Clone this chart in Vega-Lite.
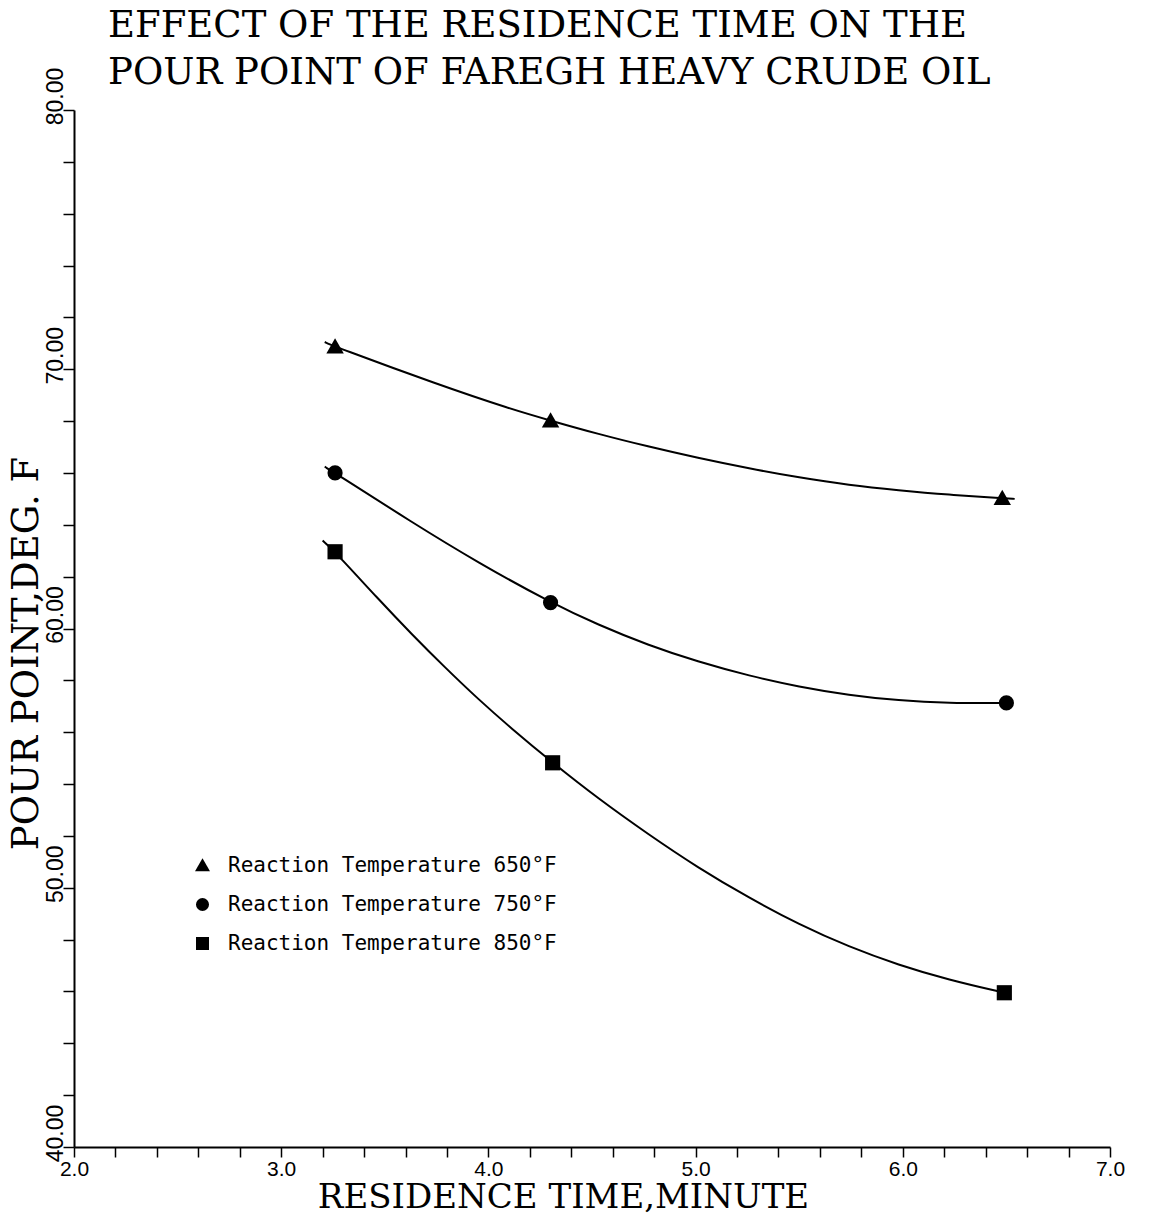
{
  "$schema": "https://vega.github.io/schema/vega-lite/v6.json",
  "width": 1036,
  "height": 1037,
  "autosize": {"type": "none"},
  "padding": {"left": 74, "top": 110, "right": 49, "bottom": 68},
  "background": "white",
  "title": {
    "text": ["EFFECT OF THE RESIDENCE TIME ON THE", "POUR POINT OF FAREGH HEAVY CRUDE OIL"],
    "anchor": "start",
    "frame": "group",
    "font": "DejaVu Serif",
    "fontSize": 37,
    "fontWeight": "normal",
    "color": "black",
    "lineHeight": 47,
    "dx": 34,
    "dy": 25,
    "offset": 0
  },
  "datasets": {
    "points": [
      {"series": "Reaction Temperature 650°F", "time": 3.26, "pour": 70.87},
      {"series": "Reaction Temperature 650°F", "time": 4.30, "pour": 68.02},
      {"series": "Reaction Temperature 650°F", "time": 6.48, "pour": 65.03},
      {"series": "Reaction Temperature 750°F", "time": 3.26, "pour": 66.0},
      {"series": "Reaction Temperature 750°F", "time": 4.30, "pour": 61.0},
      {"series": "Reaction Temperature 750°F", "time": 6.50, "pour": 57.13},
      {"series": "Reaction Temperature 850°F", "time": 3.26, "pour": 62.96},
      {"series": "Reaction Temperature 850°F", "time": 4.31, "pour": 54.82},
      {"series": "Reaction Temperature 850°F", "time": 6.49, "pour": 45.95}
    ],
    "curves": [
      {"series": "Reaction Temperature 650°F", "time": 3.21, "pour": 71.05},
      {"series": "Reaction Temperature 650°F", "time": 3.26, "pour": 70.87},
      {"series": "Reaction Temperature 650°F", "time": 3.76, "pour": 69.40},
      {"series": "Reaction Temperature 650°F", "time": 4.11, "pour": 68.46},
      {"series": "Reaction Temperature 650°F", "time": 4.30, "pour": 68.02},
      {"series": "Reaction Temperature 650°F", "time": 4.53, "pour": 67.50},
      {"series": "Reaction Temperature 650°F", "time": 4.77, "pour": 67.02},
      {"series": "Reaction Temperature 650°F", "time": 5.01, "pour": 66.58},
      {"series": "Reaction Temperature 650°F", "time": 5.26, "pour": 66.17},
      {"series": "Reaction Temperature 650°F", "time": 5.50, "pour": 65.82},
      {"series": "Reaction Temperature 650°F", "time": 5.74, "pour": 65.53},
      {"series": "Reaction Temperature 650°F", "time": 5.98, "pour": 65.33},
      {"series": "Reaction Temperature 650°F", "time": 6.22, "pour": 65.16},
      {"series": "Reaction Temperature 650°F", "time": 6.48, "pour": 65.03},
      {"series": "Reaction Temperature 650°F", "time": 6.54, "pour": 65.00},
      {"series": "Reaction Temperature 750°F", "time": 3.21, "pour": 66.24},
      {"series": "Reaction Temperature 750°F", "time": 3.26, "pour": 66.0},
      {"series": "Reaction Temperature 750°F", "time": 3.63, "pour": 64.10},
      {"series": "Reaction Temperature 750°F", "time": 3.95, "pour": 62.54},
      {"series": "Reaction Temperature 750°F", "time": 4.30, "pour": 61.0},
      {"series": "Reaction Temperature 750°F", "time": 4.53, "pour": 60.14},
      {"series": "Reaction Temperature 750°F", "time": 4.77, "pour": 59.36},
      {"series": "Reaction Temperature 750°F", "time": 5.01, "pour": 58.72},
      {"series": "Reaction Temperature 750°F", "time": 5.26, "pour": 58.17},
      {"series": "Reaction Temperature 750°F", "time": 5.50, "pour": 57.75},
      {"series": "Reaction Temperature 750°F", "time": 5.74, "pour": 57.43},
      {"series": "Reaction Temperature 750°F", "time": 5.98, "pour": 57.22},
      {"series": "Reaction Temperature 750°F", "time": 6.22, "pour": 57.12},
      {"series": "Reaction Temperature 750°F", "time": 6.50, "pour": 57.13},
      {"series": "Reaction Temperature 850°F", "time": 3.20, "pour": 63.39},
      {"series": "Reaction Temperature 850°F", "time": 3.26, "pour": 62.96},
      {"series": "Reaction Temperature 850°F", "time": 3.47, "pour": 61.12},
      {"series": "Reaction Temperature 850°F", "time": 3.63, "pour": 59.78},
      {"series": "Reaction Temperature 850°F", "time": 3.79, "pour": 58.50},
      {"series": "Reaction Temperature 850°F", "time": 3.95, "pour": 57.28},
      {"series": "Reaction Temperature 850°F", "time": 4.11, "pour": 56.15},
      {"series": "Reaction Temperature 850°F", "time": 4.31, "pour": 54.82},
      {"series": "Reaction Temperature 850°F", "time": 4.53, "pour": 53.44},
      {"series": "Reaction Temperature 850°F", "time": 4.77, "pour": 52.07},
      {"series": "Reaction Temperature 850°F", "time": 5.01, "pour": 50.78},
      {"series": "Reaction Temperature 850°F", "time": 5.26, "pour": 49.60},
      {"series": "Reaction Temperature 850°F", "time": 5.50, "pour": 48.58},
      {"series": "Reaction Temperature 850°F", "time": 5.74, "pour": 47.72},
      {"series": "Reaction Temperature 850°F", "time": 5.98, "pour": 47.02},
      {"series": "Reaction Temperature 850°F", "time": 6.22, "pour": 46.45},
      {"series": "Reaction Temperature 850°F", "time": 6.49, "pour": 45.95}
    ]
  },
  "encoding": {
    "x": {
      "field": "time",
      "type": "quantitative",
      "scale": {"domain": [2, 7], "nice": false, "zero": false},
      "axis": {
        "values": [2, 2.2, 2.4, 2.6, 2.8, 3, 3.2, 3.4, 3.6, 3.8, 4, 4.2, 4.4, 4.6, 4.8, 5, 5.2, 5.4, 5.6, 5.8, 6, 6.2, 6.4, 6.6, 6.8, 7],
        "labelExpr": "abs(datum.value - round(datum.value)) < 0.01 ? format(datum.value, '.1f') : ''",
        "labelAngle": 0,
        "labelAlign": "center",
        "labelBaseline": "top",
        "labelPadding": 1,
        "labelFont": "Liberation Sans",
        "labelFontSize": 21,
        "labelColor": "black",
        "labelOverlap": false,
        "labelFlush": false,
        "tickSize": 10,
        "tickColor": "black",
        "tickWidth": 1.5,
        "domainColor": "black",
        "domainWidth": 2,
        "grid": false,
        "title": "RESIDENCE TIME,MINUTE",
        "titleFont": "DejaVu Serif",
        "titleFontSize": 34,
        "titleFontWeight": "normal",
        "titleColor": "black",
        "titleAngle": 0,
        "titleAlign": "center",
        "titleBaseline": "alphabetic",
        "titleX": 489,
        "titleY": 60
      }
    },
    "y": {
      "field": "pour",
      "type": "quantitative",
      "scale": {"domain": [40, 80], "nice": false, "zero": false},
      "axis": {
        "values": [40, 42, 44, 46, 48, 50, 52, 54, 56, 58, 60, 62, 64, 66, 68, 70, 72, 74, 76, 78, 80],
        "labelExpr": "datum.value % 10 === 0 ? format(datum.value, '.2f') : ''",
        "labelAngle": 270,
        "labelAlign": "center",
        "labelBaseline": "alphabetic",
        "labelOffset": -14,
        "labelPadding": 1,
        "labelFont": "Liberation Sans",
        "labelFontSize": 23,
        "labelColor": "black",
        "labelOverlap": false,
        "labelFlush": false,
        "tickSize": 11,
        "tickColor": "black",
        "tickWidth": 1.5,
        "domainColor": "black",
        "domainWidth": 2,
        "grid": false,
        "title": "POUR POINT,DEG. F",
        "titleFont": "DejaVu Serif",
        "titleFontSize": 37,
        "titleFontWeight": "normal",
        "titleColor": "black",
        "titleAngle": 270,
        "titleAlign": "center",
        "titleBaseline": "alphabetic",
        "titleX": -37,
        "titleY": 543
      }
    }
  },
  "layer": [
    {
      "data": {"name": "curves"},
      "mark": {"type": "line", "interpolate": "basis", "color": "black", "strokeWidth": 2},
      "encoding": {"detail": {"field": "series", "type": "nominal"}}
    },
    {
      "data": {"name": "points"},
      "mark": {"type": "point", "filled": true, "color": "black", "size": 230, "opacity": 1},
      "encoding": {
        "shape": {
          "field": "series",
          "type": "nominal",
          "scale": {
            "domain": ["Reaction Temperature 650°F", "Reaction Temperature 750°F", "Reaction Temperature 850°F"],
            "range": ["M0,-1.1L1.15,0.9L-1.15,0.9Z", "circle", "square"]
          },
          "legend": {
            "title": null,
            "orient": "none",
            "legendX": 118,
            "legendY": 745,
            "padding": 0,
            "labelFont": "DejaVu Sans Mono",
            "labelFontSize": 21,
            "labelColor": "black",
            "labelOffset": 15,
            "labelLimit": 0,
            "symbolSize": 170,
            "symbolFillColor": "black",
            "symbolStrokeColor": "black",
            "symbolOpacity": 1,
            "rowPadding": 17
          }
        }
      }
    }
  ],
  "config": {"view": {"stroke": null}}
}
